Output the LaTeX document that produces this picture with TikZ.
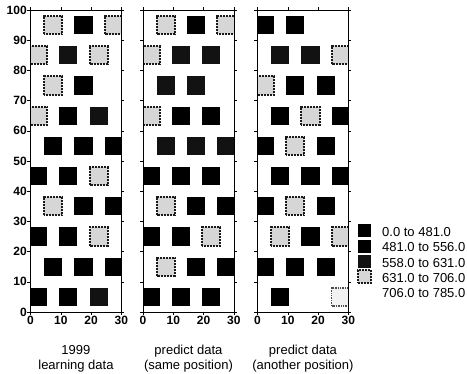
\documentclass[tikz,border=0pt]{standalone}
\usepackage{fontspec}
\setmainfont{Liberation Sans}

\tikzset{
  lvA/.style={fill=black},
  lvB/.style={fill=black!93},
  lvD/.style={fill=black!16, draw=black!90, densely dotted, line width=2pt},
  lvE/.style={fill=black!5, draw=black!70, densely dotted, line width=1.4pt},
  ticklab/.style={font=\bfseries\fontsize{12}{12}\selectfont, inner sep=1pt},
  capt/.style={font=\fontsize{13}{15}\selectfont, align=center, inner sep=0pt},
  keytxt/.style={font=\fontsize{13}{13}\selectfont, anchor=west, inner sep=0pt},
}

% frame, ticks and x labels of one panel (#1 = panel name)
\newcommand{\panelaxes}[1]{%
  \foreach \t in {0,10,...,100} {
    \draw (0,\t) -- (-1,\t);
    \draw (30,\t) -- (31,\t);
  }
  \foreach \t in {0,10,20,30} {
    \draw (\t,0) -- (\t,-1);
    \draw (\t,100) -- (\t,101);
    \node[ticklab, below] (#1x\t) at (\t,-1) {\t};
  }
  \draw[line width=0.8pt] (0,0) rectangle (30,100);
}

% squares of one panel, cut at the frame
\newcommand{\cells}[1]{%
  \begin{scope}
    \clip (0,0) rectangle (30,100);
    \foreach \cx/\cy/\lv in {#1}
      \path[\lv] (\cx-3,\cy-3) rectangle (\cx+3,\cy+3);
  \end{scope}
}

\begin{document}
\begin{tikzpicture}[x=1pt, y=1pt]
  \useasboundingbox (0,0) rectangle (467,374);

  % learning data
  \begin{scope}[shift={(30.5,62)}, x=3.03pt, y=3.02pt]
    \cells{7.5/95/lvD, 17.5/95/lvA, 27.5/95/lvD,
           2.5/85/lvD, 12.5/85/lvB, 22.5/85/lvD,
           7.5/75/lvD, 17.5/75/lvA,
           2.5/65/lvD, 12.5/65/lvA, 22.5/65/lvB,
           7.5/55/lvA, 17.5/55/lvA, 27.5/55/lvA,
           2.5/45/lvA, 12.5/45/lvA, 22.5/45/lvD,
           7.5/35/lvD, 17.5/35/lvA, 27.5/35/lvA,
           2.5/25/lvA, 12.5/25/lvA, 22.5/25/lvD,
           7.5/15/lvA, 17.5/15/lvA, 27.5/15/lvA,
           2.5/5/lvA, 12.5/5/lvA, 22.5/5/lvB}
    \panelaxes{pa}
    \foreach \t in {0,10,...,100}
      \node[ticklab, left, inner sep=0.5pt] (pay\t) at (-1,\t) {\t};
    \node[capt] (capa) at (15,-15.5) {1999\\learning data};
  \end{scope}

  % predict data, same position
  \begin{scope}[shift={(143,62)}, x=3.03pt, y=3.02pt]
    \cells{7.5/95/lvD, 17.5/95/lvA, 27.5/95/lvD,
           2.5/85/lvD, 12.5/85/lvB, 22.5/85/lvB,
           7.5/75/lvB, 17.5/75/lvB,
           2.5/65/lvD, 12.5/65/lvA, 22.5/65/lvA,
           7.5/55/lvB, 17.5/55/lvB, 27.5/55/lvB,
           2.5/45/lvA, 12.5/45/lvA, 22.5/45/lvA,
           7.5/35/lvD, 17.5/35/lvA, 27.5/35/lvA,
           2.5/25/lvA, 12.5/25/lvA, 22.5/25/lvD,
           7.5/15/lvD, 17.5/15/lvA, 27.5/15/lvA,
           2.5/5/lvA, 12.5/5/lvA, 22.5/5/lvA}
    \panelaxes{pb}
    \node[capt] (capb) at (15,-15.5) {predict data\\(same position)};
  \end{scope}

  % predict data, another position
  \begin{scope}[shift={(257.5,62)}, x=3.03pt, y=3.02pt]
    \cells{2.5/95/lvA, 12.5/95/lvA,
           7.5/85/lvB, 17.5/85/lvB, 27.5/85/lvD,
           2.5/75/lvD, 12.5/75/lvA, 22.5/75/lvA,
           7.5/65/lvA, 17.5/65/lvD, 27.5/65/lvA,
           2.5/55/lvA, 12.5/55/lvD, 22.5/55/lvA,
           7.5/45/lvA, 17.5/45/lvA, 27.5/45/lvA,
           2.5/35/lvA, 12.5/35/lvD, 22.5/35/lvA,
           7.5/25/lvD, 17.5/25/lvA, 27.5/25/lvD,
           2.5/15/lvA, 12.5/15/lvA, 22.5/15/lvA,
           7.5/5/lvA, 27.5/5/lvE}
    \panelaxes{pc}
    \node[capt] (capc) at (15,-15.5) {predict data\\(another position)};
  \end{scope}

  % legend
  \foreach \i/\lv in {1/lvA, 2/lvA, 3/lvB, 4/lvD}
    \node[\lv, minimum size=13pt, inner sep=0pt] (key\i) at (364.5,{143-15.2*(\i-1)}) {};
  \foreach \i/\txt in {1/0.0 to 481.0, 2/481.0 to 556.0, 3/558.0 to 631.0,
                       4/631.0 to 706.0, 5/706.0 to 785.0}
    \node[keytxt] (keylab\i) at (382,{142-15.3*(\i-1)}) {\txt};
\end{tikzpicture}
\end{document}
